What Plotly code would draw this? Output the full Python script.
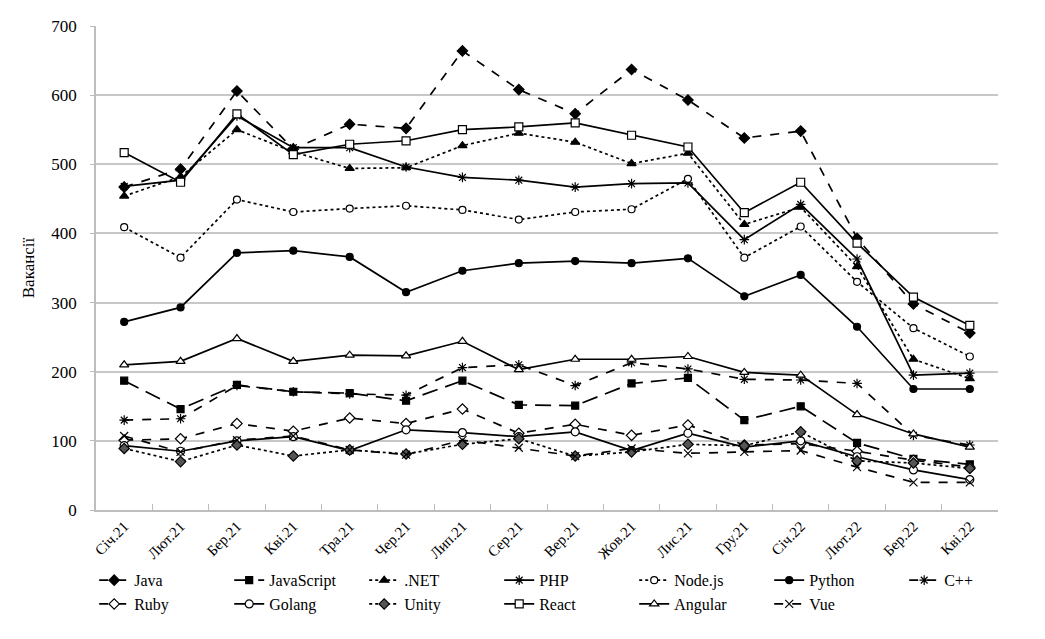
import plotly.graph_objects as go

months = ["Січ.21", "Лют.21", "Бер.21", "Кві.21", "Тра.21", "Чер.21", "Лип.21", "Сер.21",
          "Вер.21", "Жов.21", "Лис.21", "Гру.21", "Січ.22", "Лют.22", "Бер.22", "Кві.22"]

java = [467, 493, 606, 522, 558, 552, 664, 608, 573, 637, 593, 538, 548, 393, 298, 256]
javascript = [187, 146, 181, 171, 169, 158, 187, 152, 151, 183, 191, 130, 150, 97, 74, 66]
dotnet = [454, 482, 550, 518, 494, 495, 527, 545, 532, 501, 516, 413, 438, 352, 218, 190]
php = [468, 477, 570, 524, 524, 496, 481, 477, 467, 472, 473, 391, 442, 363, 195, 198]
nodejs = [409, 365, 449, 431, 436, 440, 434, 420, 431, 435, 479, 365, 410, 330, 263, 222]
python = [272, 293, 372, 375, 366, 315, 346, 357, 360, 357, 364, 309, 340, 265, 175, 175]
cpp = [130, 132, 180, 171, 168, 166, 206, 210, 180, 213, 204, 189, 188, 183, 108, 94]
ruby = [101, 103, 125, 114, 133, 125, 146, 111, 124, 108, 123, 94, 96, 85, 72, 62]
golang = [93, 85, 100, 106, 86, 116, 112, 106, 113, 86, 111, 91, 100, 77, 58, 44]
unity = [89, 70, 94, 78, 87, 81, 95, 103, 78, 84, 95, 93, 113, 71, 68, 60]
react = [517, 474, 573, 514, 529, 534, 550, 554, 560, 542, 525, 430, 474, 386, 308, 267]
angular = [210, 215, 248, 215, 224, 223, 244, 203, 218, 218, 222, 199, 195, 138, 110, 91]
vue = [107, 84, 101, 107, 87, 80, 101, 90, 78, 89, 82, 84, 86, 62, 40, 40]

FONT = "Liberation Serif"

# name, values, dash, symbol, marker fill, marker size
series = [
    ("Java", java, "dash", "diamond", "black", 8),
    ("JavaScript", javascript, "16px,8px", "square", "black", 7),
    (".NET", dotnet, "dot", "triangle-up", "black", 8),
    ("PHP", php, "solid", "asterisk-open", "black", 8),
    ("Node.js", nodejs, "dot", "circle", "white", 7),
    ("Python", python, "solid", "circle", "black", 7),
    ("C++", cpp, "dash", "asterisk-open", "black", 8),
    ("Ruby", ruby, "dash", "diamond", "white", 8),
    ("Golang", golang, "solid", "circle", "white", 8),
    ("Unity", unity, "dot", "diamond", "#555555", 8),
    ("React", react, "solid", "square", "white", 8),
    ("Angular", angular, "solid", "triangle-up", "white", 8),
    ("Vue", vue, "dash", "x-thin-open", "black", 8),
]

fig = go.Figure()
for name, vals, dash, sym, fill, size in series:
    fig.add_trace(go.Scatter(
        x=months, y=vals, name=name, mode="lines+markers",
        line=dict(color="black", width=1.7, dash=dash),
        marker=dict(symbol=sym, size=size, color=fill,
                    line=dict(color="black", width=1.2)),
    ))

fig.update_layout(
    width=1045, height=639,
    template="none",
    paper_bgcolor="white", plot_bgcolor="white",
    margin=dict(l=88, r=55, t=18, b=137, autoexpand=False),
    font=dict(family=FONT, size=15, color="black"),
    showlegend=True,
    legend=dict(
        orientation="h", x=-0.002, xanchor="left", y=-0.11, yanchor="top",
        entrywidth=90, entrywidthmode="pixels", itemwidth=30,
        font=dict(family=FONT, size=16, color="black"),
        bgcolor="rgba(0,0,0,0)", tracegroupgap=0,
    ),
    xaxis=dict(
        type="category", range=[-0.5, 15.5], tickangle=-45, showgrid=False,
        showline=True, linecolor="#bdbdbd", linewidth=1.5,
        ticks="inside", tickson="boundaries", ticklen=6, tickcolor="#bdbdbd",
        tickfont=dict(family=FONT, size=15), zeroline=False,
    ),
    yaxis=dict(
        range=[0, 700], dtick=100, showgrid=True, gridcolor="#c8c8c8", gridwidth=1.5,
        showline=True, linecolor="#bdbdbd", linewidth=1.5, zeroline=False,
        ticks="outside", ticklen=4, tickcolor="#bdbdbd", ticklabelstandoff=10,
        tickfont=dict(family=FONT, size=17),
        title=dict(text="Вакансії", font=dict(family=FONT, size=17), standoff=12),
    ),
)

fig.write_html("out.html")
